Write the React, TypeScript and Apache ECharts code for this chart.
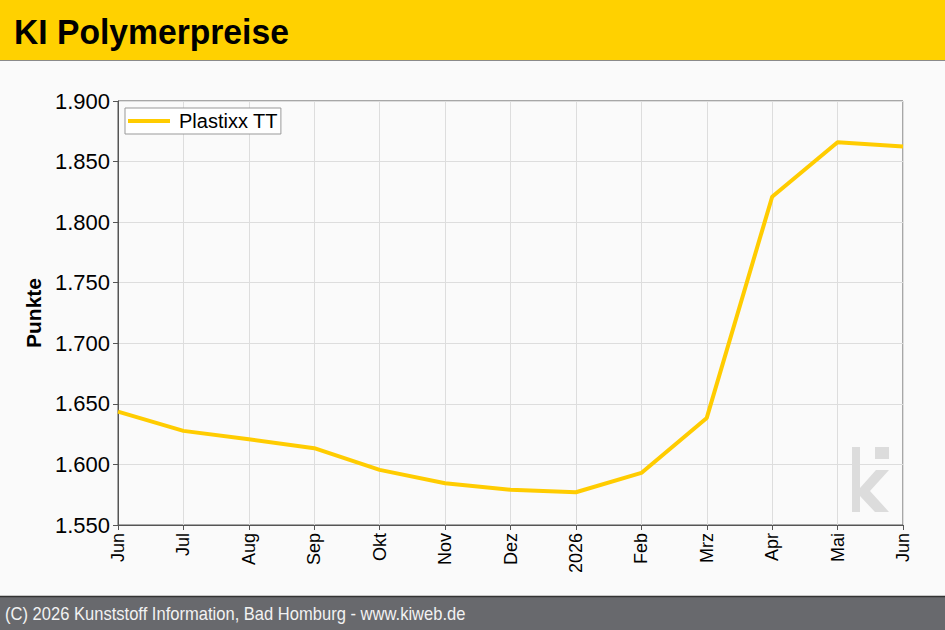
import React, { useEffect, useRef } from "react";
import * as echarts from "echarts";

const months = ["Jun", "Jul", "Aug", "Sep", "Okt", "Nov", "Dez", "2026", "Feb", "Mrz", "Apr", "Mai", "Jun"];
const plastixx = [1643.6, 1627.7, 1620.8, 1613.4, 1595.5, 1584.5, 1579.1, 1577.0, 1593.0, 1638.4, 1821.0, 1866.0, 1862.5];
const seriesName = "Plastixx TT";
const titleText = "KI Polymerpreise";
const footerText = "(C) 2026 Kunststoff Information, Bad Homburg - www.kiweb.de";
const yAxisName = "Punkte";

const FONT = "'Liberation Sans', Arial, sans-serif";

function fmt(v: number): string {
  const t = Math.floor(v / 1000);
  const r = Math.round(v % 1000);
  return t > 0 ? `${t}.${String(r).padStart(3, "0")}` : String(r);
}

export default function App() {
  const ref = useRef<HTMLDivElement>(null);
  useEffect(() => {
    document.body.style.margin = "0";
    const chart = echarts.init(ref.current!, null, { renderer: "svg" });
    chart.setOption({
      animation: false,
      backgroundColor: "#fafafa",
      textStyle: { fontFamily: FONT },
      grid: { left: 118, top: 101, width: 785, height: 424, show: true, borderColor: "#555", borderWidth: 1, backgroundColor: "transparent" },
      legend: {
        left: 125,
        top: 108,
        data: [seriesName],
        icon: "rect",
        itemWidth: 42,
        itemHeight: 4,
        backgroundColor: "#fff",
        borderColor: "#999",
        borderWidth: 1,
        borderRadius: 0,
        padding: [3, 3, 3, 3],
        textStyle: { fontSize: 20, color: "#000", fontFamily: FONT, padding: [0, 0, 0, 4] },
      },
      xAxis: {
        type: "category",
        data: months,
        boundaryGap: false,
        axisLine: { lineStyle: { color: "#555" } },
        axisTick: { show: true, length: 5, lineStyle: { color: "#555" }, alignWithLabel: true },
        axisLabel: { rotate: 90, fontSize: 18, color: "#000", margin: 8, fontFamily: FONT, interval: 0 },
        splitLine: { show: true, lineStyle: { color: "#dddddd" } },
      },
      yAxis: {
        type: "value",
        min: 1550,
        max: 1900,
        interval: 50,
        name: yAxisName,
        nameLocation: "middle",
        nameGap: 72,
        nameTextStyle: { fontSize: 21, fontWeight: "bold", color: "#000", fontFamily: FONT },
        axisLine: { show: true, lineStyle: { color: "#555" } },
        axisTick: { show: true, length: 5, lineStyle: { color: "#555" } },
        axisLabel: { fontSize: 22, color: "#000", margin: 8, formatter: fmt, fontFamily: FONT },
        splitLine: { show: true, lineStyle: { color: "#dddddd" } },
      },
      series: [
        {
          name: seriesName,
          type: "line",
          data: plastixx,
          symbol: "none",
          lineStyle: { color: "#FFCC00", width: 4 },
          itemStyle: { color: "#FFCC00" },
          z: 5,
        },
      ],
      graphic: [
        { type: "rect", left: 0, top: 0, shape: { width: 945, height: 60 }, style: { fill: "#FFD100" }, z: 10 },
        { type: "line", shape: { x1: 0, y1: 60.5, x2: 945, y2: 60.5 }, style: { stroke: "#8a8a8a", lineWidth: 1 }, z: 11 },
        { type: "text", x: 14, y: 31, scaleX: 0.935, style: { text: titleText, font: `bold 36px ${FONT}`, fill: "#000", verticalAlign: "middle" }, z: 12 },
        { type: "rect", shape: { x: 0, y: 597, width: 945, height: 33 }, style: { fill: "#68696d" }, z: 10 },
        { type: "line", shape: { x1: 0, y1: 596.5, x2: 945, y2: 596.5 }, style: { stroke: "#333", lineWidth: 1.5 }, z: 11 },
        { type: "text", x: 5, y: 614, scaleX: 0.92, style: { text: footerText, font: `18px ${FONT}`, fill: "#f2f2f2", verticalAlign: "middle" }, z: 12 },
        { type: "rect", shape: { x: 852, y: 447, width: 8, height: 65 }, style: { fill: "#dcdcdc" }, z: 1 },
        { type: "rect", shape: { x: 875, y: 447, width: 14, height: 12 }, style: { fill: "#dcdcdc" }, z: 1 },
        {
          type: "polygon",
          shape: { points: [[860, 488], [876, 470], [889, 470], [870, 491], [889, 512], [875, 512], [860, 496]] },
          style: { fill: "#dcdcdc" },
          z: 1,
        },
      ],
    });
    return () => chart.dispose();
  }, []);
  return <div ref={ref} style={{ position: "absolute", left: 0, top: 0, width: 945, height: 630 }} />;
}
